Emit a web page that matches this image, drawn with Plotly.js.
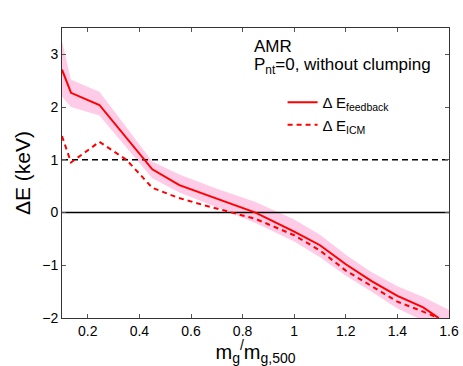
<!DOCTYPE html>
<html>
<head>
<meta charset="utf-8">
<script src="https://cdn.plot.ly/plotly-3.0.1.min.js"></script>
<style>
  html, body { margin: 0; padding: 0; background: #fff; }
  #chart { width: 463px; height: 366px; }
</style>
</head>
<body>
<div id="chart"></div>
<script>
// feedback energy (solid line)
const xFeedback = [0.1, 0.135, 0.245, 0.45, 0.555, 0.7, 0.85, 1.0, 1.1, 1.2, 1.3, 1.4, 1.5, 1.56];
const yFeedback = [2.71, 2.27, 2.04, 0.82, 0.52, 0.27, 0.0, -0.36, -0.62, -0.98, -1.3, -1.58, -1.8, -2.0];

// ICM energy (dashed line)
const xICM = [0.1, 0.135, 0.245, 0.35, 0.45, 0.55, 0.65, 0.75, 0.85, 1.0, 1.1, 1.2, 1.3, 1.4, 1.5, 1.56];
const yICM = [1.45, 0.95, 1.34, 1.0, 0.47, 0.28, 0.14, 0.01, -0.12, -0.43, -0.72, -1.1, -1.4, -1.69, -1.88, -2.0];

// scatter band around the feedback curve
const xBand = [0.1, 0.135, 0.245, 0.45, 0.555, 0.7, 0.85, 1.0, 1.1, 1.2, 1.3, 1.4, 1.5, 1.6];
const bandUpper = [3.25, 2.52, 2.29, 0.97, 0.72, 0.45, 0.2, -0.13, -0.42, -0.8, -1.13, -1.4, -1.6, -1.85];
const bandLower = [2.2, 2.0, 1.84, 0.65, 0.38, 0.1, -0.2, -0.55, -0.85, -1.2, -1.5, -1.82, -2.05, -2.3];

// reference levels
const xSpan = [0.1, 1.6];
const zeroLevel = 0;
const oneLevel = 1;

const font = '"Liberation Sans", Arial, sans-serif';

const data = [
    {
        x: xBand.concat(xBand.slice().reverse()),
        y: bandUpper.concat(bandLower.slice().reverse()),
        fill: 'toself',
        fillcolor: 'rgb(255, 204, 232)',
        line: { width: 0 },
        mode: 'lines',
        hoverinfo: 'skip',
        showlegend: false
    },
    {
        x: xSpan,
        y: xSpan.map(() => zeroLevel),
        mode: 'lines',
        line: { color: '#000', width: 1.6 },
        showlegend: false
    },
    {
        x: xSpan,
        y: xSpan.map(() => oneLevel),
        mode: 'lines',
        line: { color: '#000', width: 1.6, dash: '6px,4px' },
        showlegend: false
    },
    {
        x: xFeedback,
        y: yFeedback,
        mode: 'lines',
        name: 'Δ E<sub>feedback</sub>',
        line: { color: '#ff0000', width: 2 }
    },
    {
        x: xICM,
        y: yICM,
        mode: 'lines',
        name: 'Δ E<sub>ICM</sub>',
        line: { color: '#ff0000', width: 2, dash: '5px,4px' }
    }
];

const layout = {
    width: 463,
    height: 366,
    font: { family: font, color: '#000', size: 14 },
    paper_bgcolor: '#ffffff',
    plot_bgcolor: '#ffffff',
    margin: { l: 62, r: 14, t: 28, b: 48 },
    xaxis: {
        range: [0.1, 1.6],
        tickvals: [0.2, 0.4, 0.6, 0.8, 1, 1.2, 1.4, 1.6],
        ticks: 'inside',
        ticklen: 4,
        tickcolor: '#555',
        mirror: 'ticks',
        showline: true,
        linecolor: '#333',
        linewidth: 1,
        showgrid: false,
        zeroline: false,
        tickfont: { size: 14 },
        title: { text: 'm<sub>g</sub><sup>/</sup>m<sub>g,500</sub>', font: { size: 20 }, standoff: 3 }
    },
    yaxis: {
        range: [-2, 3.5],
        tickvals: [-2, -1, 0, 1, 2, 3],
        ticks: 'inside',
        ticklen: 4,
        tickcolor: '#555',
        mirror: 'ticks',
        showline: true,
        linecolor: '#333',
        linewidth: 1,
        showgrid: false,
        zeroline: false,
        tickfont: { size: 14 },
        title: { text: 'ΔE (keV)', font: { size: 21 }, standoff: 5 }
    },
    showlegend: true,
    legend: {
        x: 0.57,
        y: 0.8,
        xanchor: 'left',
        yanchor: 'top',
        bgcolor: 'rgba(0,0,0,0)',
        font: { size: 15 },
        itemwidth: 30,
        tracegroupgap: 0
    },
    annotations: [
        {
            xref: 'paper', yref: 'paper',
            x: 0.492, y: 0.935,
            xanchor: 'left', yanchor: 'middle',
            text: 'AMR',
            showarrow: false,
            font: { size: 17 }
        },
        {
            xref: 'paper', yref: 'paper',
            x: 0.492, y: 0.87,
            xanchor: 'left', yanchor: 'middle',
            text: 'P<sub>nt</sub>=0, without clumping',
            showarrow: false,
            font: { size: 17 }
        }
    ]
};

Plotly.newPlot('chart', data, layout, { displayModeBar: false, staticPlot: true });
</script>
</body>
</html>
